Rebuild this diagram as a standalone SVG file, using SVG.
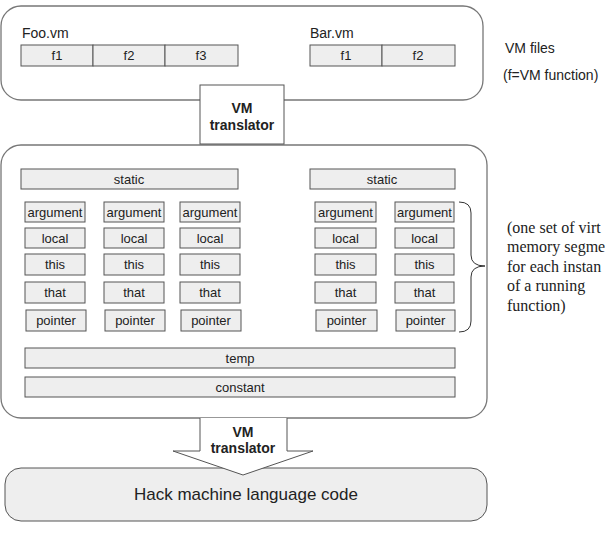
<svg xmlns="http://www.w3.org/2000/svg" width="605" height="539" viewBox="0 0 605 539">
<style>
.outer{fill:#fff;stroke:#777;stroke-width:1.3}
.seg{fill:#eee;stroke:#555;stroke-width:1}
.t{font-family:"Liberation Sans",Arial,sans-serif;font-size:13px;fill:#222;text-anchor:middle}
.lbl{font-family:"Liberation Sans",Arial,sans-serif;font-size:14px;fill:#222}
.b{font-family:"Liberation Sans",Arial,sans-serif;font-size:14px;font-weight:bold;fill:#222;text-anchor:middle}
.serif{font-family:"Liberation Serif","Times New Roman",serif;font-size:16px;fill:#222}
</style>
<g id="vm-files">
<rect class="outer" x="1" y="6" width="482" height="94" rx="20"/>
<text class="lbl" x="22" y="38">Foo.vm</text>
<rect class="seg" x="21" y="45" width="72" height="21"/><text class="t" x="57" y="60">f1</text>
<rect class="seg" x="93" y="45" width="72" height="21"/><text class="t" x="129" y="60">f2</text>
<rect class="seg" x="165" y="45" width="73" height="21"/><text class="t" x="201" y="60">f3</text>
<text class="lbl" x="310" y="38">Bar.vm</text>
<rect class="seg" x="310" y="45" width="72" height="21"/><text class="t" x="346" y="60">f1</text>
<rect class="seg" x="382" y="45" width="73" height="21"/><text class="t" x="418" y="60">f2</text>
</g>
<g id="vm-files-label">
<text class="lbl" x="505" y="53">VM files</text>
<text class="lbl" x="503" y="80">(f=VM function)</text>
</g>
<g id="memory">
<rect class="outer" x="1" y="145" width="486" height="273" rx="20"/>
<rect class="seg" x="21" y="169" width="217" height="20"/><text class="t" x="129" y="183.5">static</text>
<rect class="seg" x="310" y="169" width="145" height="20"/><text class="t" x="382" y="183.5">static</text>
<g id="set1">
<rect class="seg" x="25" y="202" width="60" height="20"/><text class="t" x="55" y="216.5">argument</text>
<rect class="seg" x="25" y="228" width="60" height="20"/><text class="t" x="55" y="242.5">local</text>
<rect class="seg" x="25" y="254" width="60" height="21"/><text class="t" x="55" y="269">this</text>
<rect class="seg" x="25" y="282" width="60" height="21"/><text class="t" x="55" y="297">that</text>
<rect class="seg" x="26" y="310" width="60" height="21"/><text class="t" x="56" y="325">pointer</text>
</g>
<g id="set2">
<rect class="seg" x="104" y="202" width="60" height="20"/><text class="t" x="134" y="216.5">argument</text>
<rect class="seg" x="104" y="228" width="60" height="20"/><text class="t" x="134" y="242.5">local</text>
<rect class="seg" x="104" y="254" width="60" height="21"/><text class="t" x="134" y="269">this</text>
<rect class="seg" x="104" y="282" width="60" height="21"/><text class="t" x="134" y="297">that</text>
<rect class="seg" x="105" y="310" width="60" height="21"/><text class="t" x="135" y="325">pointer</text>
</g>
<g id="set3">
<rect class="seg" x="180" y="202" width="60" height="20"/><text class="t" x="210" y="216.5">argument</text>
<rect class="seg" x="180" y="228" width="60" height="20"/><text class="t" x="210" y="242.5">local</text>
<rect class="seg" x="180" y="254" width="60" height="21"/><text class="t" x="210" y="269">this</text>
<rect class="seg" x="180" y="282" width="60" height="21"/><text class="t" x="210" y="297">that</text>
<rect class="seg" x="181" y="310" width="60" height="21"/><text class="t" x="211" y="325">pointer</text>
</g>
<g id="set4">
<rect class="seg" x="315" y="202" width="61" height="20"/><text class="t" x="345.5" y="216.5">argument</text>
<rect class="seg" x="315" y="228" width="61" height="20"/><text class="t" x="345.5" y="242.5">local</text>
<rect class="seg" x="315" y="254" width="61" height="21"/><text class="t" x="345.5" y="269">this</text>
<rect class="seg" x="315" y="282" width="61" height="21"/><text class="t" x="345.5" y="297">that</text>
<rect class="seg" x="316" y="310" width="61" height="21"/><text class="t" x="346.5" y="325">pointer</text>
</g>
<g id="set5">
<rect class="seg" x="395" y="202" width="59" height="20"/><text class="t" x="424.5" y="216.5">argument</text>
<rect class="seg" x="395" y="228" width="59" height="20"/><text class="t" x="424.5" y="242.5">local</text>
<rect class="seg" x="395" y="254" width="59" height="21"/><text class="t" x="424.5" y="269">this</text>
<rect class="seg" x="395" y="282" width="59" height="21"/><text class="t" x="424.5" y="297">that</text>
<rect class="seg" x="396" y="310" width="59" height="21"/><text class="t" x="425.5" y="325">pointer</text>
</g>
<rect class="seg" x="25" y="348" width="430" height="20"/><text class="t" x="240" y="362.5">temp</text>
<rect class="seg" x="25" y="377" width="430" height="20"/><text class="t" x="240" y="391.5">constant</text>
</g>
<g id="brace">
<path d="M459,202 Q471,202 471,213 L471,255 Q471,266 485,266 Q471,266 471,277 L471,321 Q471,332 459,332" fill="none" stroke="#333" stroke-width="1"/>
<text class="serif" x="507" y="233">(one set of virt</text>
<text class="serif" x="507" y="252">memory segme</text>
<text class="serif" x="507" y="272">for each instan</text>
<text class="serif" x="507" y="291">of a running</text>
<text class="serif" x="507" y="311">function)</text>
</g>
<g id="hack">
<rect x="5" y="468" width="482" height="53" rx="16" fill="#eee" stroke="#555" stroke-width="1"/>
<text class="t" x="246" y="500" style="font-size:17px">Hack machine language code</text>
</g>
<g id="connectors">
<g id="translator1">
<rect x="200" y="85" width="84" height="59" fill="#fff" stroke="#555" stroke-width="1"/>
<text class="b" x="242" y="113">VM</text>
<text class="b" x="242" y="130">translator</text>
</g>
<g id="translator2">
<path d="M200,418 L200,451 L173,451 L243,475 L313,451 L287,451 L287,418" fill="#fff" stroke="#555" stroke-width="1"/>
<text class="b" x="243" y="437">VM</text>
<text class="b" x="243" y="453">translator</text>
</g>
</g>
</svg>
